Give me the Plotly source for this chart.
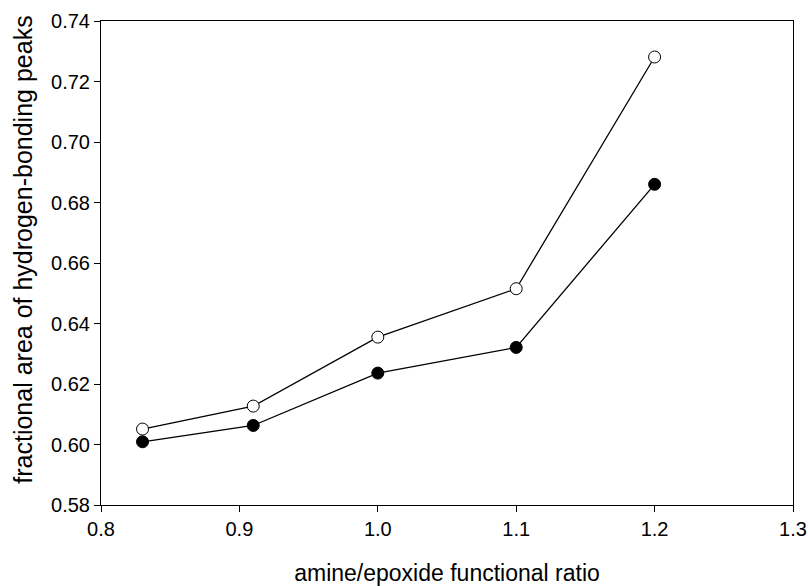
import plotly.graph_objects as go

ratio = [0.83, 0.91, 1.0, 1.1, 1.2]
open_series = [0.6051, 0.6127, 0.6355, 0.6515, 0.7281]
filled_series = [0.6009, 0.6063, 0.6236, 0.6321, 0.6860]

x_ticks = [0.8, 0.9, 1.0, 1.1, 1.2, 1.3]
x_labels = ["0.8", "0.9", "1.0", "1.1", "1.2", "1.3"]
y_ticks = [0.58, 0.60, 0.62, 0.64, 0.66, 0.68, 0.70, 0.72, 0.74]
y_labels = ["0.58", "0.60", "0.62", "0.64", "0.66", "0.68", "0.70", "0.72", "0.74"]

FONT = "Liberation Sans, Arial, sans-serif"

fig = go.Figure()
fig.add_trace(go.Scatter(
    x=ratio, y=open_series, mode="lines+markers",
    line=dict(color="black", width=1.3),
    marker=dict(symbol="circle", size=12, color="white", line=dict(color="black", width=1)),
    showlegend=False))
fig.add_trace(go.Scatter(
    x=ratio, y=filled_series, mode="lines+markers",
    line=dict(color="black", width=1.3),
    marker=dict(symbol="circle", size=12, color="black", line=dict(color="black", width=1)),
    showlegend=False))

fig.update_layout(
    width=808, height=586,
    margin=dict(l=101, r=15, t=21, b=81, autoexpand=False),
    plot_bgcolor="white", paper_bgcolor="white",
    font=dict(family=FONT, size=18, color="black"),
    xaxis=dict(
        range=[0.8, 1.3], tickmode="array", tickvals=x_ticks, ticktext=x_labels,
        showgrid=False, zeroline=False, showline=True, linecolor="black", linewidth=1,
        mirror=True, ticks="outside", ticklen=6, tickcolor="black", tickwidth=1,
        tickfont=dict(family=FONT, size=20, color="black"),
        ticklabeloverflow="allow",
        title=dict(text="amine/epoxide functional ratio", standoff=25,
                   font=dict(family=FONT, size=23, color="black")),
    ),
    yaxis=dict(
        range=[0.58, 0.74], tickmode="array", tickvals=y_ticks, ticktext=y_labels,
        showgrid=False, zeroline=False, showline=True, linecolor="black", linewidth=1,
        mirror=True, ticks="outside", ticklen=6, tickcolor="black", tickwidth=1,
        tickfont=dict(family=FONT, size=20, color="black"),
        ticklabeloverflow="allow",
    ),
    annotations=[dict(
        text="fractional area of hydrogen-bonding peaks",
        xref="paper", yref="paper", x=-0.113, y=0.527,
        xanchor="center", yanchor="middle", textangle=-90, showarrow=False,
        font=dict(family=FONT, size=25, color="black"),
    )],
)

fig.write_html("out.html")
